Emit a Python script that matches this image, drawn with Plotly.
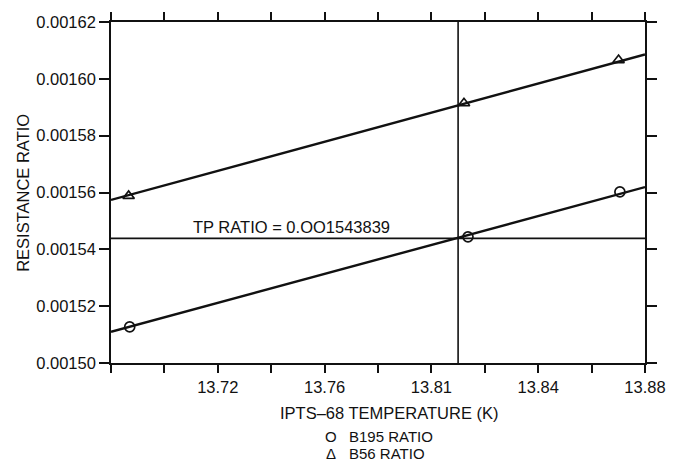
import plotly.graph_objects as go

# ---- data ----
temp_b195 = [13.687, 13.8137, 13.8706]
ratio_b195 = [0.0015127, 0.0015444, 0.0015602]
temp_b56 = [13.6866, 13.8122, 13.8701]
ratio_b56 = [0.0015588, 0.0015914, 0.0016066]

fit_temp = [13.68, 13.88]
fit_b195 = [0.0015110, 0.0015619]
fit_b56 = [0.0015574, 0.0016086]

tp_temp = 13.81
tp_ratio = 0.001543839
tp_label = "TP RATIO = 0.OO1543839"

x_tickvals = [13.68, 13.70, 13.72, 13.74, 13.76, 13.78, 13.80, 13.82, 13.84, 13.86, 13.88]
x_ticktext = ["", "", "13.72", "", "13.76", "", "13.81", "", "13.84", "", "13.88"]
y_tickvals = [0.00150, 0.00152, 0.00154, 0.00156, 0.00158, 0.00160, 0.00162]
y_ticktext = ["0.00150", "0.00152", "0.00154", "0.00156", "0.00158", "0.00160", "0.00162"]

x_title = "IPTS–68 TEMPERATURE (K)"
y_title = "RESISTANCE RATIO"
legend_labels = ["B195 RATIO", "B56 RATIO"]
legend_symbols = ["O", "Δ"]

INK = "#111111"
FONT = "Liberation Sans, Arial, Helvetica, sans-serif"
FS = 16.5

fig = go.Figure()

# fit lines
fig.add_trace(go.Scatter(x=fit_temp, y=fit_b195, mode="lines",
                         line=dict(color=INK, width=2.4), showlegend=False, hoverinfo="skip"))
fig.add_trace(go.Scatter(x=fit_temp, y=fit_b56, mode="lines",
                         line=dict(color=INK, width=2.4), showlegend=False, hoverinfo="skip"))
# data points
fig.add_trace(go.Scatter(x=temp_b195, y=ratio_b195, mode="markers", name=legend_labels[0],
                         marker=dict(symbol="circle-open", size=10, color=INK, line=dict(width=1.7)),
                         showlegend=False))
fig.add_trace(go.Scatter(x=temp_b56, y=ratio_b56, mode="markers", name=legend_labels[1],
                         marker=dict(symbol="triangle-up-open", size=10, color=INK, line=dict(width=1.7)),
                         showlegend=False))

# triple point reference lines
fig.add_shape(type="line", xref="x", yref="paper", x0=tp_temp, x1=tp_temp, y0=0, y1=1,
              line=dict(color=INK, width=1.6))
fig.add_shape(type="line", xref="paper", yref="y", x0=0, x1=1, y0=tp_ratio, y1=tp_ratio,
              line=dict(color=INK, width=1.6))

fig.add_annotation(x=13.71, y=tp_ratio, xref="x", yref="y", text=tp_label,
                   xanchor="left", yanchor="bottom", yshift=0, showarrow=False,
                   font=dict(size=FS, color=INK, family=FONT))

# axis titles (positioned like the reference)
fig.add_annotation(x=0.521, y=-0.146, xref="paper", yref="paper", text=x_title,
                   xanchor="center", yanchor="middle", showarrow=False,
                   font=dict(size=FS, color=INK, family=FONT))
fig.add_annotation(x=-0.166, y=0.5, xref="paper", yref="paper", text=y_title, textangle=-90,
                   xanchor="center", yanchor="middle", showarrow=False,
                   font=dict(size=FS, color=INK, family=FONT))

# legend as text
legend_y = [-0.2157, -0.2653]
for sym, lab, yy in zip(legend_symbols, legend_labels, legend_y):
    fig.add_annotation(x=0.412, y=yy, xref="paper", yref="paper", text=sym,
                       xanchor="center", yanchor="middle", showarrow=False,
                       font=dict(size=15, color=INK, family=FONT))
    fig.add_annotation(x=0.442, y=yy, xref="paper", yref="paper", text=lab,
                       xanchor="left", yanchor="middle", showarrow=False,
                       font=dict(size=15, color=INK, family=FONT))

fig.update_xaxes(range=[13.68, 13.88], tickvals=x_tickvals, ticktext=x_ticktext,
                 ticks="outside", ticklen=8, tickwidth=1.5, tickcolor=INK,
                 showline=True, linecolor=INK, linewidth=1.6, mirror="ticks",
                 showgrid=False, zeroline=False,
                 tickfont=dict(size=FS, color=INK, family=FONT))
fig.update_yaxes(range=[0.00150, 0.00162], tickvals=y_tickvals, ticktext=y_ticktext,
                 ticks="outside", ticklen=10, tickwidth=1.5, tickcolor=INK,
                 showline=True, linecolor=INK, linewidth=1.6, mirror="ticks",
                 showgrid=False, zeroline=False,
                 tickfont=dict(size=FS, color=INK, family=FONT))

fig.update_layout(width=678, height=464,
                  margin=dict(l=111, r=20, t=20, b=101),
                  paper_bgcolor="white", plot_bgcolor="white",
                  showlegend=False,
                  font=dict(family=FONT, size=FS, color=INK))

fig.write_html("out.html")
